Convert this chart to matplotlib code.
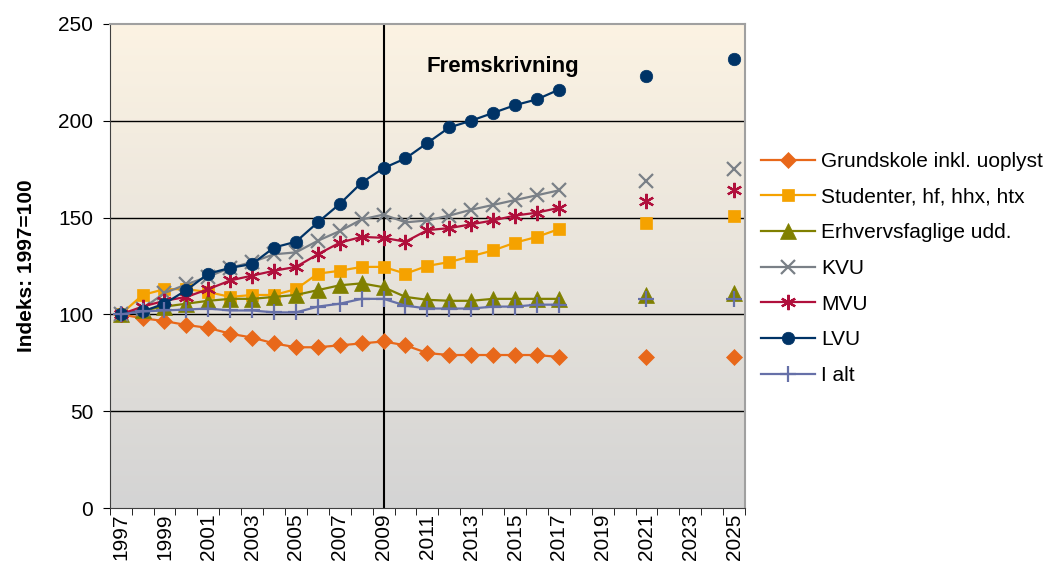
import numpy as np
import matplotlib.pyplot as plt
from matplotlib.colors import LinearSegmentedColormap

plt.rcParams['font.family'] = ['Liberation Sans', 'DejaVu Sans']

nan = np.nan

years = list(range(1997, 2026))

# index 1997=100, projections for 2021 and 2025 only
grundskole = [100, 98, 96.5, 94.5, 93, 90, 88, 85, 83, 83, 84, 85, 86, 84, 80, 79, 79, 79, 79, 79, 78,
              nan, nan, nan, 78, nan, nan, nan, 78]
studenter = [100, 110, 113, 113, 111.5, 109, 110, 110, 113, 121, 122.5, 124.5, 124.5, 121, 125, 127, 130, 133, 137, 140, 144,
             nan, nan, nan, 147, nan, nan, nan, 151]
erhverv = [100, 102, 104, 105.5, 107, 108, 108, 109, 110, 112.5, 115, 116, 114, 109, 107.5, 107, 107, 108, 108, 108, 108,
           nan, nan, nan, 110, nan, nan, nan, 111]
kvu = [100, 103, 111, 115.5, 119.5, 124, 127, 131, 132, 138, 143, 149, 151.5, 147.5, 148.5, 151, 154, 156.5, 159, 161.5, 164,
       nan, nan, nan, 169, nan, nan, nan, 175]
mvu = [100, 104, 107, 109, 113, 117.5, 120, 122.5, 124.5, 131, 137, 140, 139.5, 137.5, 143.5, 144.5, 146.5, 148.5, 151, 152.5, 155,
       nan, nan, nan, 158.5, nan, nan, nan, 164]
lvu = [100, 101.5, 105.5, 112.5, 121, 124, 126, 134.5, 137.5, 147.5, 157, 168, 175.5, 180.5, 188.5, 196.5, 200, 204, 208, 211, 216,
       nan, nan, nan, 223, nan, nan, nan, 232]
i_alt = [100, 101.5, 102, 102.5, 103, 102, 102, 101, 101, 104, 105.5, 108, 108, 104.5, 103, 103, 103, 104, 104, 105, 105,
         nan, nan, nan, 108, nan, nan, nan, 108]

series = [
    ('Grundskole inkl. uoplyst', grundskole, '#E8681A', 'D', 8),
    ('Studenter, hf, hhx, htx', studenter, '#F5A200', 's', 9),
    ('Erhvervsfaglige udd.', erhverv, '#808000', '^', 11),
    ('KVU', kvu, '#7A8087', 'x', 10),
    ('MVU', mvu, '#B0103C', (6, 2, 0), 11),
    ('LVU', lvu, '#003366', 'o', 9),
    ('I alt', i_alt, '#6670A8', '+', 11),
]

fig = plt.figure(figsize=(10.45, 5.67), dpi=100)
ax = fig.add_axes([0.105, 0.104, 0.608, 0.854])

x = np.arange(len(years))

# background gradient cream -> grey
cmap = LinearSegmentedColormap.from_list('bg', ['#FCF3E3', '#D4D4D4'])
grad = np.linspace(0, 1, 256).reshape(-1, 1)
ax.imshow(grad, cmap=cmap, aspect='auto', extent=(-0.5, len(years) - 0.5, 0, 250),
          origin='upper', zorder=0)

for label, vals, color, marker, ms in series:
    ax.plot(x, vals, color=color, marker=marker, markersize=ms, linewidth=1.6,
            markeredgewidth=1.6 if marker in ('x', '+', (6, 2, 0)) else 0.5,
            markeredgecolor=color, label=label, zorder=3)

ax.set_xlim(-0.5, len(years) - 0.5)
ax.set_ylim(0, 250)
ax.set_yticks([0, 50, 100, 150, 200, 250])
for v in [50, 100, 150, 200]:
    ax.axhline(v, color='black', linewidth=1, zorder=1)

ax.axvline(years.index(2009), color='black', linewidth=1.5, zorder=2)
ax.text(years.index(2014) + 0.45, 228, 'Fremskrivning', fontsize=16, fontweight='bold',
        ha='center', va='center', zorder=4)

ax.set_xticks(x[::2])
ax.set_xticklabels([str(y) for y in years[::2]], rotation=90, fontsize=15)
ax.set_xticks(np.arange(-0.5, len(years), 1), minor=True)
ax.tick_params(axis='x', which='major', length=0, pad=4)
ax.tick_params(axis='x', which='minor', length=5, direction='out')
ax.tick_params(axis='y', labelsize=15, length=5, direction='out', pad=7)

ax.set_ylabel('Indeks: 1997=100', fontsize=15, fontweight='bold', labelpad=16)

for s in ['top', 'right']:
    ax.spines[s].set_color('#A0A0A0')
    ax.spines[s].set_linewidth(1.5)
ax.spines['left'].set_color('#404040')
ax.spines['bottom'].set_color('#404040')

ax.legend(loc='center left', bbox_to_anchor=(0.995, 0.495), frameon=False, fontsize=15,
          handlelength=2.6, labelspacing=0.8, handletextpad=0.3)

fig.savefig('out.png', dpi=100)
